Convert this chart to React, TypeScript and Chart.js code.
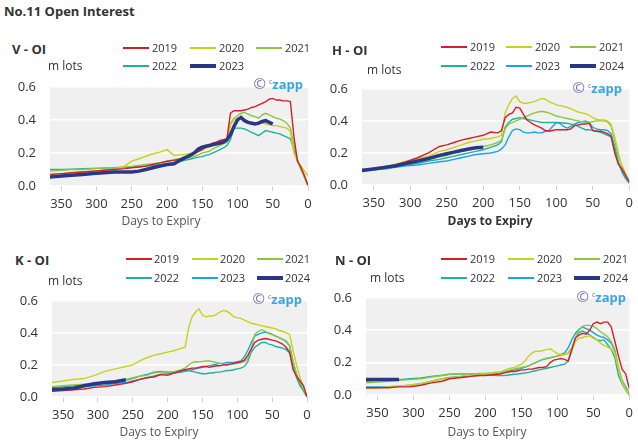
import React, { useEffect, useRef } from "react";
import { Chart, registerables } from "chart.js";

Chart.register(...registerables);

const FONT = "'Open Sans', 'Noto Sans', 'DejaVu Sans', sans-serif";

// Days to expiry (shared x grid)
const DAYS = [366, 350, 335, 320, 305, 290, 275, 260, 250, 240, 230, 220, 210, 200, 190, 180, 175, 170, 165, 160, 155, 150, 145, 140, 135, 130, 125, 120, 115, 110, 105, 100, 95, 90, 85, 80, 75, 70, 65, 60, 55, 50, 45, 40, 35, 30, 25, 20, 15, 10, 5, 0];
const X_TICKS = [350, 300, 250, 200, 150, 100, 50, 0];
const Y_TICKS = [0, 0.2, 0.4, 0.6];
const N = null;

// V - OI
const V_2019 = [0.07, 0.075, 0.08, 0.085, 0.09, 0.095, 0.1, 0.105, 0.11, 0.115, 0.12, 0.13, 0.14, 0.15, 0.155, 0.165, 0.17, 0.18, 0.19, 0.2, 0.21, 0.22, 0.235, 0.245, 0.26, 0.265, 0.275, 0.28, 0.285, 0.44, 0.455, 0.455, 0.455, 0.46, 0.465, 0.475, 0.48, 0.49, 0.5, 0.51, 0.525, 0.53, 0.52, 0.52, 0.515, 0.515, 0.51, 0.3, 0.15, 0.115, 0.06, 0.005];
const V_2020 = [0.07, 0.075, 0.08, 0.085, 0.09, 0.095, 0.1, 0.12, 0.15, 0.165, 0.18, 0.195, 0.205, 0.22, 0.185, 0.19, 0.19, 0.195, 0.2, 0.205, 0.21, 0.22, 0.23, 0.235, 0.245, 0.25, 0.255, 0.265, 0.27, 0.37, 0.4, 0.41, 0.415, 0.4, 0.39, 0.385, 0.38, 0.375, 0.38, 0.375, 0.37, 0.365, 0.365, 0.36, 0.355, 0.35, 0.33, 0.2, 0.15, 0.12, 0.09, 0.06];
const V_2021 = [0.09, 0.095, 0.1, 0.1, 0.105, 0.108, 0.11, 0.115, 0.118, 0.125, 0.13, 0.135, 0.14, 0.15, 0.16, 0.165, 0.165, 0.17, 0.175, 0.18, 0.19, 0.2, 0.205, 0.21, 0.225, 0.235, 0.245, 0.255, 0.265, 0.38, 0.41, 0.425, 0.44, 0.445, 0.435, 0.425, 0.42, 0.41, 0.43, 0.44, 0.43, 0.42, 0.41, 0.405, 0.395, 0.38, 0.35, 0.25, 0.15, 0.1, 0.05, 0.0];
const V_2022 = [0.1, 0.1, 0.102, 0.104, 0.106, 0.108, 0.11, 0.112, 0.114, 0.116, 0.12, 0.124, 0.13, 0.135, 0.14, 0.15, 0.155, 0.16, 0.165, 0.17, 0.175, 0.178, 0.185, 0.19, 0.2, 0.21, 0.22, 0.23, 0.245, 0.28, 0.35, 0.35, 0.35, 0.345, 0.335, 0.325, 0.315, 0.305, 0.32, 0.335, 0.33, 0.325, 0.32, 0.315, 0.305, 0.295, 0.285, 0.22, 0.16, 0.1, 0.06, 0.0];
const V_2023 = [0.055, 0.06, 0.065, 0.07, 0.075, 0.08, 0.085, 0.085, 0.085, 0.09, 0.1, 0.11, 0.12, 0.13, 0.135, 0.16, 0.17, 0.18, 0.19, 0.205, 0.225, 0.235, 0.24, 0.245, 0.25, 0.255, 0.26, 0.265, 0.28, 0.31, 0.36, 0.4, 0.415, 0.395, 0.385, 0.38, 0.375, 0.38, 0.39, 0.395, 0.385, 0.375, N, N, N, N, N, N, N, N, N, N];

// H - OI
const H_2019 = [0.09, 0.1, 0.11, 0.125, 0.145, 0.17, 0.2, 0.24, 0.25, 0.265, 0.28, 0.29, 0.3, 0.31, 0.33, 0.325, 0.34, 0.42, 0.44, 0.45, 0.485, 0.48, 0.44, 0.405, 0.39, 0.375, 0.365, 0.355, 0.34, 0.335, 0.34, 0.345, 0.345, 0.345, 0.345, 0.35, 0.37, 0.375, 0.38, 0.38, 0.385, 0.34, 0.335, 0.335, 0.33, 0.32, 0.305, 0.2, 0.13, 0.1, 0.06, 0.02];
const H_2020 = [0.09, 0.1, 0.115, 0.13, 0.15, 0.165, 0.18, 0.21, 0.22, 0.235, 0.25, 0.265, 0.275, 0.285, 0.29, 0.3, 0.31, 0.45, 0.5, 0.54, 0.555, 0.52, 0.51, 0.51, 0.515, 0.52, 0.53, 0.54, 0.535, 0.52, 0.51, 0.5, 0.495, 0.49, 0.485, 0.475, 0.465, 0.455, 0.45, 0.445, 0.435, 0.42, 0.41, 0.405, 0.405, 0.4, 0.38, 0.3, 0.2, 0.11, 0.06, 0.02];
const H_2021 = [0.1, 0.105, 0.115, 0.125, 0.135, 0.145, 0.16, 0.175, 0.185, 0.2, 0.21, 0.22, 0.23, 0.24, 0.25, 0.265, 0.28, 0.35, 0.38, 0.39, 0.4, 0.41, 0.42, 0.43, 0.44, 0.45, 0.455, 0.46, 0.455, 0.45, 0.44, 0.43, 0.425, 0.42, 0.415, 0.41, 0.405, 0.4, 0.395, 0.39, 0.39, 0.395, 0.4, 0.4, 0.4, 0.395, 0.37, 0.28, 0.18, 0.12, 0.07, 0.02];
const H_2022 = [0.095, 0.1, 0.105, 0.115, 0.125, 0.135, 0.15, 0.16, 0.17, 0.18, 0.19, 0.2, 0.21, 0.22, 0.235, 0.25, 0.27, 0.36, 0.39, 0.41, 0.415, 0.42, 0.415, 0.41, 0.405, 0.4, 0.395, 0.39, 0.39, 0.39, 0.39, 0.39, 0.39, 0.385, 0.385, 0.38, 0.375, 0.365, 0.355, 0.345, 0.345, 0.34, 0.335, 0.33, 0.32, 0.31, 0.3, 0.22, 0.14, 0.09, 0.05, 0.02];
const H_2023 = [0.09, 0.095, 0.1, 0.11, 0.12, 0.125, 0.135, 0.145, 0.15, 0.16, 0.17, 0.18, 0.19, 0.195, 0.2, 0.21, 0.225, 0.25, 0.3, 0.34, 0.35, 0.345, 0.33, 0.325, 0.325, 0.33, 0.325, 0.325, 0.335, 0.34, 0.365, 0.39, 0.385, 0.365, 0.355, 0.365, 0.38, 0.39, 0.395, 0.4, 0.39, 0.36, 0.35, 0.345, 0.345, 0.34, 0.32, 0.24, 0.14, 0.08, 0.04, 0.01];
const H_2024 = [0.09, 0.1, 0.11, 0.12, 0.135, 0.15, 0.165, 0.185, 0.195, 0.205, 0.215, 0.225, 0.232, 0.235, N, N, N, N, N, N, N, N, N, N, N, N, N, N, N, N, N, N, N, N, N, N, N, N, N, N, N, N, N, N, N, N, N, N, N, N, N, N];

// K - OI
const K_2019 = [0.035, 0.04, 0.045, 0.05, 0.06, 0.065, 0.075, 0.085, 0.095, 0.11, 0.12, 0.125, 0.14, 0.135, 0.15, 0.165, 0.17, 0.175, 0.18, 0.18, 0.185, 0.19, 0.19, 0.185, 0.19, 0.195, 0.195, 0.2, 0.2, 0.205, 0.21, 0.215, 0.22, 0.23, 0.26, 0.3, 0.34, 0.355, 0.36, 0.365, 0.36, 0.355, 0.35, 0.34, 0.33, 0.31, 0.28, 0.17, 0.13, 0.1, 0.07, 0.0];
const K_2020 = [0.09, 0.1, 0.11, 0.115, 0.135, 0.16, 0.175, 0.19, 0.2, 0.225, 0.245, 0.26, 0.27, 0.28, 0.29, 0.305, 0.31, 0.43, 0.5, 0.53, 0.55, 0.51, 0.5, 0.505, 0.505, 0.515, 0.53, 0.54, 0.535, 0.52, 0.5, 0.495, 0.49, 0.48, 0.47, 0.46, 0.455, 0.45, 0.445, 0.44, 0.435, 0.43, 0.425, 0.415, 0.41, 0.4, 0.39, 0.29, 0.2, 0.12, 0.06, 0.01];
const K_2021 = [0.065, 0.07, 0.075, 0.08, 0.085, 0.09, 0.1, 0.11, 0.12, 0.13, 0.135, 0.15, 0.155, 0.155, 0.16, 0.17, 0.18, 0.2, 0.215, 0.22, 0.22, 0.222, 0.225, 0.225, 0.22, 0.215, 0.21, 0.205, 0.205, 0.205, 0.205, 0.21, 0.215, 0.22, 0.24, 0.3, 0.39, 0.41, 0.42, 0.41, 0.395, 0.39, 0.38, 0.37, 0.36, 0.35, 0.32, 0.22, 0.14, 0.09, 0.05, 0.01];
const K_2022 = [0.06, 0.065, 0.07, 0.075, 0.08, 0.085, 0.095, 0.105, 0.115, 0.13, 0.14, 0.155, 0.16, 0.155, 0.155, 0.16, 0.165, 0.165, 0.16, 0.155, 0.15, 0.145, 0.145, 0.15, 0.15, 0.155, 0.155, 0.16, 0.165, 0.165, 0.17, 0.175, 0.18, 0.19, 0.22, 0.28, 0.31, 0.325, 0.34, 0.34, 0.33, 0.325, 0.315, 0.31, 0.305, 0.295, 0.275, 0.19, 0.12, 0.07, 0.04, 0.0];
const K_2023 = [0.05, 0.055, 0.06, 0.065, 0.07, 0.075, 0.085, 0.09, 0.1, 0.11, 0.12, 0.13, 0.14, 0.145, 0.15, 0.155, 0.16, 0.165, 0.17, 0.175, 0.18, 0.185, 0.19, 0.195, 0.2, 0.205, 0.21, 0.21, 0.215, 0.215, 0.215, 0.22, 0.225, 0.25, 0.29, 0.34, 0.38, 0.39, 0.4, 0.405, 0.4, 0.39, 0.38, 0.37, 0.36, 0.345, 0.32, 0.22, 0.14, 0.08, 0.04, 0.0];
const K_2024 = [0.047, 0.05, 0.055, 0.07, 0.082, 0.09, 0.095, 0.108, N, N, N, N, N, N, N, N, N, N, N, N, N, N, N, N, N, N, N, N, N, N, N, N, N, N, N, N, N, N, N, N, N, N, N, N, N, N, N, N, N, N, N, N];

// N - OI
const N_2019 = [0.045, 0.045, 0.045, 0.05, 0.05, 0.06, 0.075, 0.085, 0.1, 0.105, 0.11, 0.115, 0.12, 0.12, 0.125, 0.13, 0.135, 0.14, 0.145, 0.145, 0.15, 0.155, 0.155, 0.16, 0.16, 0.165, 0.17, 0.17, 0.175, 0.2, 0.215, 0.22, 0.225, 0.22, 0.21, 0.28, 0.35, 0.37, 0.38, 0.375, 0.4, 0.44, 0.45, 0.44, 0.45, 0.45, 0.42, 0.33, 0.24, 0.16, 0.13, 0.04];
const N_2020 = [0.04, 0.045, 0.05, 0.055, 0.062, 0.07, 0.085, 0.1, 0.105, 0.11, 0.12, 0.12, 0.125, 0.13, 0.135, 0.14, 0.15, 0.16, 0.165, 0.17, 0.18, 0.19, 0.21, 0.24, 0.26, 0.27, 0.27, 0.275, 0.28, 0.285, 0.27, 0.255, 0.25, 0.25, 0.255, 0.27, 0.33, 0.35, 0.355, 0.36, 0.365, 0.35, 0.34, 0.32, 0.305, 0.295, 0.285, 0.25, 0.16, 0.08, 0.03, 0.01];
const N_2021 = [0.075, 0.08, 0.085, 0.09, 0.095, 0.1, 0.11, 0.12, 0.128, 0.13, 0.13, 0.132, 0.133, 0.135, 0.138, 0.142, 0.145, 0.15, 0.155, 0.16, 0.165, 0.17, 0.175, 0.18, 0.19, 0.2, 0.21, 0.22, 0.225, 0.23, 0.235, 0.24, 0.245, 0.25, 0.26, 0.29, 0.35, 0.4, 0.425, 0.43, 0.43, 0.425, 0.41, 0.39, 0.375, 0.36, 0.33, 0.28, 0.17, 0.09, 0.04, 0.01];
const N_2022 = [0.085, 0.09, 0.092, 0.095, 0.1, 0.105, 0.115, 0.122, 0.128, 0.13, 0.13, 0.13, 0.128, 0.125, 0.122, 0.12, 0.12, 0.122, 0.125, 0.128, 0.13, 0.133, 0.136, 0.14, 0.145, 0.15, 0.155, 0.16, 0.165, 0.17, 0.175, 0.18, 0.185, 0.19, 0.21, 0.27, 0.35, 0.385, 0.395, 0.385, 0.37, 0.355, 0.34, 0.335, 0.34, 0.31, 0.28, 0.23, 0.12, 0.07, 0.03, 0.0];
const N_2023 = [0.05, 0.05, 0.052, 0.055, 0.06, 0.07, 0.085, 0.1, 0.108, 0.112, 0.115, 0.118, 0.12, 0.123, 0.128, 0.135, 0.14, 0.145, 0.15, 0.155, 0.16, 0.165, 0.172, 0.18, 0.19, 0.2, 0.21, 0.22, 0.225, 0.23, 0.235, 0.24, 0.25, 0.26, 0.29, 0.34, 0.38, 0.405, 0.42, 0.41, 0.4, 0.385, 0.37, 0.36, 0.355, 0.34, 0.32, 0.27, 0.16, 0.09, 0.05, 0.01];
const N_2024 = [0.095, 0.095, 0.095, 0.095, N, N, N, N, N, N, N, N, N, N, N, N, N, N, N, N, N, N, N, N, N, N, N, N, N, N, N, N, N, N, N, N, N, N, N, N, N, N, N, N, N, N, N, N, N, N, N, N];

const RED = "#d2202a";
const YELLOW = "#c8d21c";
const GREEN = "#8cc63f";
const TEAL = "#1fb2a2";
const BLUE = "#1aa3e6";
const NAVY = "#2b3686";

type Series = { label: string; data: (number | null)[]; color: string; thick?: boolean };
type Panel = {
  title: string;
  series: Series[];
  plot: { l: number; r: number; t: number; b: number };
  titlePos: [number, number];
  unitPos: [number, number];
  legendCols: number[];
  legendRows: number[];
  textOffset: number;
  mark: [number, number];
  axisTitle: [number, number];
  axisBold: boolean;
};

const PANELS: Panel[] = [
  {
    title: "V - OI",
    series: [
      { label: "2019", data: V_2019, color: RED },
      { label: "2020", data: V_2020, color: YELLOW },
      { label: "2021", data: V_2021, color: GREEN },
      { label: "2022", data: V_2022, color: TEAL },
      { label: "2023", data: V_2023, color: NAVY, thick: true },
    ],
    plot: { l: 50, r: 308, t: 75, b: 186 },
    titlePos: [12, 50],
    unitPos: [48, 66],
    legendCols: [123, 190, 256],
    legendRows: [48, 66],
    textOffset: 29,
    mark: [303, 83],
    axisTitle: [161, 221],
    axisBold: false,
  },
  {
    title: "H - OI",
    series: [
      { label: "2019", data: H_2019, color: RED },
      { label: "2020", data: H_2020, color: YELLOW },
      { label: "2021", data: H_2021, color: GREEN },
      { label: "2022", data: H_2022, color: TEAL },
      { label: "2023", data: H_2023, color: BLUE },
      { label: "2024", data: H_2024, color: NAVY, thick: true },
    ],
    plot: { l: 362, r: 630, t: 77, b: 185 },
    titlePos: [332, 51],
    unitPos: [367, 70],
    legendCols: [441, 506, 570],
    legendRows: [47, 65.5],
    textOffset: 29,
    mark: [622, 87],
    axisTitle: [490, 221],
    axisBold: true,
  },
  {
    title: "K - OI",
    series: [
      { label: "2019", data: K_2019, color: RED },
      { label: "2020", data: K_2020, color: YELLOW },
      { label: "2021", data: K_2021, color: GREEN },
      { label: "2022", data: K_2022, color: TEAL },
      { label: "2023", data: K_2023, color: BLUE },
      { label: "2024", data: K_2024, color: NAVY, thick: true },
    ],
    plot: { l: 52, r: 307, t: 289, b: 397 },
    titlePos: [15, 261],
    unitPos: [48, 281],
    legendCols: [126, 192, 257],
    legendRows: [258.5, 277.5],
    textOffset: 28,
    mark: [302, 298],
    axisTitle: [159, 432],
    axisBold: false,
  },
  {
    title: "N - OI",
    series: [
      { label: "2019", data: N_2019, color: RED },
      { label: "2020", data: N_2020, color: YELLOW },
      { label: "2021", data: N_2021, color: GREEN },
      { label: "2022", data: N_2022, color: TEAL },
      { label: "2023", data: N_2023, color: BLUE },
      { label: "2024", data: N_2024, color: NAVY, thick: true },
    ],
    plot: { l: 366, r: 631, t: 286, b: 395 },
    titlePos: [335, 261],
    unitPos: [370, 278],
    legendCols: [441, 508, 574],
    legendRows: [258.5, 277.5],
    textOffset: 29,
    mark: [626, 296],
    axisTitle: [487, 432],
    axisBold: false,
  },
];

const Y_AXIS_W = 50;
const PAD_T = 10;
const X_AXIS_H = 32;

const plotBg = {
  id: "plotBg",
  beforeDraw(chart: any) {
    const { ctx, chartArea: a } = chart;
    ctx.save();
    ctx.fillStyle = "#f0f0f0";
    ctx.fillRect(a.left, a.top, a.right - a.left, a.bottom - a.top);
    ctx.restore();
  },
};

function PanelChart({ p }: { p: Panel }) {
  const ref = useRef<HTMLCanvasElement | null>(null);
  const padR = Math.min(10, 638 - p.plot.r);
  const W = Y_AXIS_W + (p.plot.r - p.plot.l) + padR;
  const H = PAD_T + (p.plot.b - p.plot.t) + X_AXIS_H;
  useEffect(() => {
    if (!ref.current) return;
    const datasets = p.series.map((s) => ({
      label: s.label,
      data: DAYS.map((d, i) => ({ x: d, y: s.data[i] })).filter((pt) => pt.y !== null),
      borderColor: s.color,
      backgroundColor: s.color,
      borderWidth: s.thick ? 3.5 : 1.4,
      pointRadius: 0,
      tension: 0,
      fill: false,
      order: s.thick ? 0 : 1,
    }));
    const chart = new Chart(ref.current, {
      type: "line",
      data: { datasets },
      options: {
        animation: false,
        responsive: false,
        maintainAspectRatio: false,
        events: [],
        layout: { padding: { top: PAD_T, right: padR, left: 0, bottom: 0 } },
        plugins: { legend: { display: false }, tooltip: { enabled: false }, title: { display: false } },
        scales: {
          x: {
            type: "linear",
            reverse: true,
            min: 0,
            max: 366,
            afterFit: (s: any) => {
              s.height = X_AXIS_H;
            },
            afterBuildTicks: (s: any) => {
              s.ticks = X_TICKS.map((v) => ({ value: v }));
            },
            ticks: {
              autoSkip: false,
              maxRotation: 0,
              padding: 5,
              color: "#333",
              font: { family: FONT, size: 13 },
              callback: (v: any) => String(v),
            },
            grid: { drawOnChartArea: false, drawTicks: true, tickLength: 5, color: "#cfcfcf" },
            border: { display: false },
          },
          y: {
            min: 0,
            max: 0.6,
            afterFit: (s: any) => {
              s.width = Y_AXIS_W;
            },
            afterBuildTicks: (s: any) => {
              s.ticks = Y_TICKS.map((v) => ({ value: v }));
            },
            ticks: {
              padding: 14,
              color: "#333",
              font: { family: FONT, size: 13 },
              callback: (v: any) => Number(v).toFixed(1),
            },
            grid: { color: "#ffffff", lineWidth: 1.5, drawTicks: false },
            border: { display: false },
          },
        },
      },
      plugins: [plotBg],
    } as any);
    return () => chart.destroy();
  }, []);
  return (
    <canvas
      ref={ref}
      width={W}
      height={H}
      style={{ position: "absolute", left: p.plot.l - Y_AXIS_W, top: p.plot.t - PAD_T, width: W, height: H }}
    />
  );
}

function Txt(props: { x: number; y: number; size: number; bold?: boolean; color?: string; center?: boolean; children: any }) {
  return (
    <div
      style={{
        position: "absolute",
        left: props.x,
        top: props.y,
        transform: props.center ? "translate(-50%, -50%)" : "translateY(-50%)",
        fontFamily: FONT,
        fontSize: props.size,
        fontWeight: props.bold ? 700 : 400,
        color: props.color || "#333",
        whiteSpace: "nowrap",
        lineHeight: 1.2,
      }}
    >
      {props.children}
    </div>
  );
}

function PanelOverlay({ p }: { p: Panel }) {
  return (
    <>
      <Txt x={p.titlePos[0]} y={p.titlePos[1]} size={13} bold>
        {p.title}
      </Txt>
      <Txt x={p.unitPos[0]} y={p.unitPos[1]} size={12}>
        m lots
      </Txt>
      {p.series.map((s, i) => {
        const col = i % 3;
        const row = Math.floor(i / 3);
        const x = p.legendCols[col];
        const y = p.legendRows[row];
        const h = s.thick ? 4 : 2;
        return (
          <React.Fragment key={s.label}>
            <div style={{ position: "absolute", left: x, top: y - h / 2, width: 26, height: h, background: s.color }} />
            <Txt x={x + p.textOffset} y={y} size={11}>
              {s.label}
            </Txt>
          </React.Fragment>
        );
      })}
      <div
        style={{
          position: "absolute",
          right: 638 - p.mark[0],
          top: p.mark[1],
          transform: "translateY(-50%)",
          whiteSpace: "nowrap",
          fontFamily: FONT,
          lineHeight: 1,
        }}
      >
        <span style={{ color: "#7673b6", fontSize: 15 }}>©</span>
        <span style={{ color: "#7673b6", fontSize: 7, verticalAlign: "5px", marginLeft: 3 }}>c</span>
        <span style={{ color: "#3aa5e3", fontSize: 13, fontWeight: 700 }}>zapp</span>
      </div>
      <Txt x={p.axisTitle[0]} y={p.axisTitle[1]} size={12} bold={p.axisBold} color={p.axisBold ? "#333" : "#555"} center>
        Days to Expiry
      </Txt>
    </>
  );
}

export default function App() {
  return (
    <div style={{ position: "fixed", left: 0, top: 0, width: 638, height: 447, background: "#fff", overflow: "hidden" }}>
      <Txt x={4} y={12} size={13} bold>
        No.11 Open Interest
      </Txt>
      {PANELS.map((p) => (
        <PanelChart key={p.title} p={p} />
      ))}
      {PANELS.map((p) => (
        <PanelOverlay key={"o" + p.title} p={p} />
      ))}
    </div>
  );
}
